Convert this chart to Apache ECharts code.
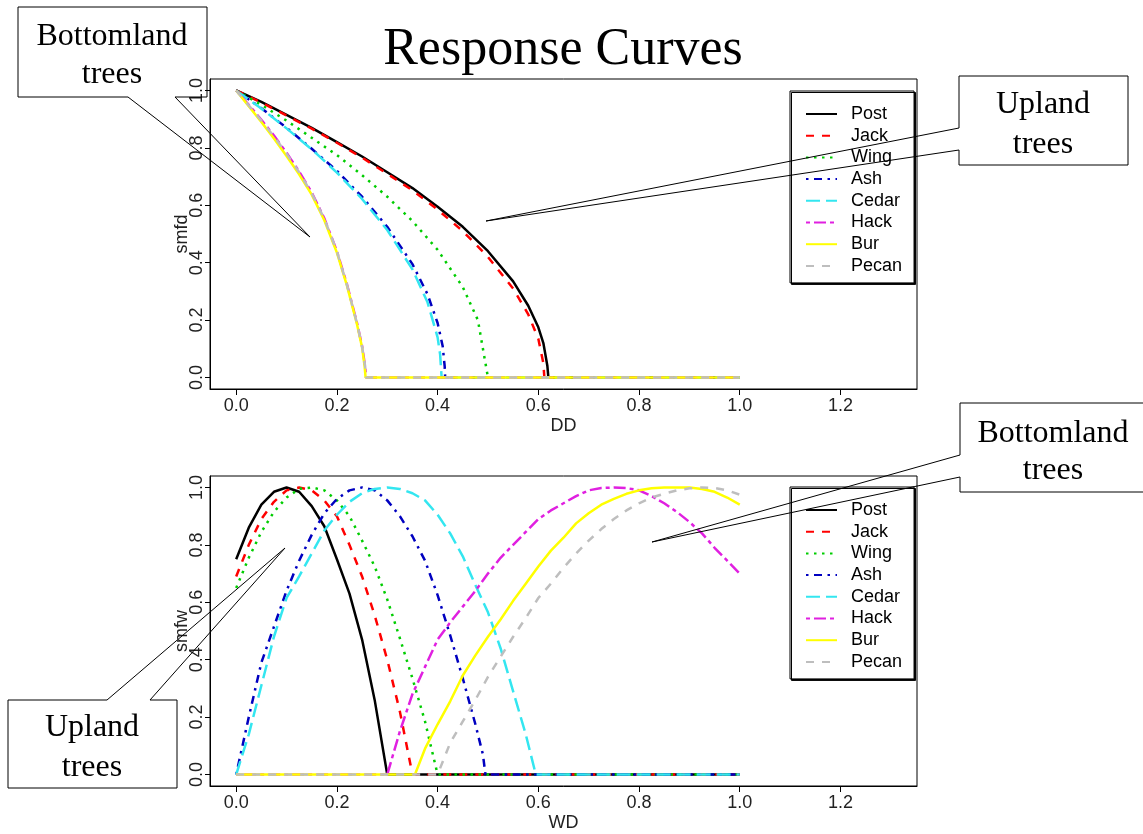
<!DOCTYPE html>
<html>
<head>
<meta charset="utf-8">
<title>Response Curves</title>
<script src="https://cdn.jsdelivr.net/npm/echarts@6.0.0/dist/echarts.min.js"></script>
<style>
  html, body { margin: 0; padding: 0; background: #fff; }
  #chart { width: 1143px; height: 834px; }
</style>
</head>
<body>
<div id="chart"></div>
<script>
// species and tick labels
const speciesNames = ['Post', 'Jack', 'Wing', 'Ash', 'Cedar', 'Hack', 'Bur', 'Pecan'];
const xTicks = [0, 0.2, 0.4, 0.6, 0.8, 1.0, 1.2];
const yTicks = [0, 0.2, 0.4, 0.6, 0.8, 1.0];

// smfd vs DD
const ddPost  = [[0,1],[0.05,0.96],[0.1,0.915],[0.15,0.87],[0.2,0.82],[0.25,0.77],[0.3,0.715],[0.35,0.66],[0.4,0.595],[0.45,0.525],[0.5,0.44],[0.55,0.335],[0.58,0.25],[0.6,0.175],[0.61,0.12],[0.618,0.04],[0.62,0],[1,0]];
const ddJack  = [[0,1],[0.05,0.958],[0.1,0.913],[0.15,0.867],[0.2,0.818],[0.25,0.766],[0.3,0.71],[0.35,0.652],[0.4,0.585],[0.45,0.51],[0.5,0.42],[0.55,0.31],[0.58,0.22],[0.6,0.135],[0.61,0.05],[0.612,0],[1,0]];
const ddWing  = [[0,1],[0.05,0.95],[0.1,0.895],[0.15,0.835],[0.2,0.775],[0.25,0.705],[0.3,0.63],[0.35,0.545],[0.4,0.445],[0.45,0.315],[0.48,0.2],[0.495,0.05],[0.5,0],[1,0]];
const ddAsh   = [[0,1],[0.05,0.938],[0.1,0.87],[0.15,0.797],[0.2,0.72],[0.25,0.63],[0.3,0.525],[0.35,0.395],[0.38,0.29],[0.4,0.19],[0.41,0.11],[0.414,0.04],[0.415,0],[1,0]];
const ddCedar = [[0,1],[0.05,0.937],[0.1,0.868],[0.15,0.795],[0.2,0.714],[0.25,0.622],[0.3,0.514],[0.35,0.377],[0.38,0.262],[0.4,0.14],[0.405,0.08],[0.408,0],[1,0]];
const ddHack  = [[0,1],[0.025,0.95],[0.05,0.898],[0.075,0.843],[0.1,0.783],[0.125,0.718],[0.15,0.645],[0.175,0.555],[0.2,0.44],[0.22,0.325],[0.24,0.19],[0.25,0.11],[0.256,0.04],[0.258,0],[1,0]];
const ddBur   = [[0,1],[0.025,0.945],[0.05,0.89],[0.075,0.833],[0.1,0.772],[0.125,0.708],[0.15,0.637],[0.175,0.548],[0.2,0.435],[0.22,0.32],[0.24,0.185],[0.25,0.105],[0.255,0.04],[0.257,0],[1,0]];
const ddPecan = [[0,1],[0.025,0.948],[0.05,0.895],[0.075,0.84],[0.1,0.78],[0.125,0.715],[0.15,0.642],[0.175,0.553],[0.2,0.44],[0.22,0.322],[0.24,0.188],[0.25,0.108],[0.256,0.04],[0.258,0],[1,0]];

// smfw vs WD
const wdPost  = [[0,0.75],[0.025,0.86],[0.05,0.94],[0.075,0.985],[0.1,1],[0.125,0.985],[0.15,0.935],[0.175,0.865],[0.2,0.75],[0.225,0.63],[0.25,0.47],[0.275,0.26],[0.3,0],[1,0]];
const wdJack  = [[0,0.69],[0.025,0.8],[0.05,0.89],[0.075,0.95],[0.1,0.99],[0.125,1],[0.15,0.99],[0.175,0.955],[0.2,0.9],[0.225,0.8],[0.25,0.69],[0.275,0.555],[0.3,0.4],[0.325,0.22],[0.35,0],[1,0]];
const wdWing  = [[0,0.65],[0.025,0.755],[0.05,0.845],[0.075,0.915],[0.1,0.965],[0.125,0.995],[0.15,1],[0.175,0.99],[0.2,0.955],[0.225,0.9],[0.25,0.815],[0.275,0.725],[0.3,0.61],[0.325,0.475],[0.35,0.335],[0.375,0.185],[0.4,0],[1,0]];
const wdAsh   = [[0,0],[0.025,0.2],[0.05,0.39],[0.075,0.515],[0.1,0.64],[0.125,0.745],[0.15,0.835],[0.175,0.91],[0.2,0.96],[0.225,0.99],[0.25,1],[0.275,0.99],[0.3,0.955],[0.325,0.9],[0.35,0.83],[0.375,0.745],[0.4,0.625],[0.425,0.485],[0.45,0.335],[0.475,0.175],[0.49,0.07],[0.495,0],[1,0]];
const wdCedar = [[0,0],[0.025,0.14],[0.05,0.31],[0.075,0.48],[0.1,0.615],[0.125,0.69],[0.15,0.77],[0.175,0.85],[0.2,0.905],[0.225,0.95],[0.25,0.98],[0.275,0.995],[0.3,1],[0.325,0.995],[0.35,0.98],[0.375,0.955],[0.4,0.905],[0.425,0.84],[0.45,0.76],[0.475,0.66],[0.5,0.565],[0.525,0.44],[0.55,0.29],[0.575,0.14],[0.595,0],[1,0]];
const wdHack  = [[0,0],[0.3,0],[0.325,0.15],[0.35,0.28],[0.375,0.375],[0.4,0.47],[0.425,0.53],[0.45,0.585],[0.475,0.64],[0.5,0.7],[0.525,0.755],[0.55,0.8],[0.575,0.845],[0.6,0.89],[0.625,0.92],[0.65,0.945],[0.675,0.97],[0.7,0.99],[0.725,0.998],[0.75,1],[0.775,0.998],[0.8,0.99],[0.825,0.97],[0.85,0.945],[0.875,0.915],[0.9,0.88],[0.925,0.84],[0.95,0.79],[0.975,0.745],[1,0.7]];
const wdBur   = [[0,0],[0.355,0],[0.375,0.09],[0.4,0.175],[0.425,0.255],[0.45,0.345],[0.475,0.415],[0.5,0.48],[0.525,0.54],[0.55,0.605],[0.575,0.665],[0.6,0.725],[0.625,0.78],[0.65,0.825],[0.675,0.875],[0.7,0.91],[0.725,0.94],[0.75,0.96],[0.775,0.978],[0.8,0.99],[0.825,0.997],[0.85,1],[0.875,1],[0.9,1],[0.925,0.995],[0.95,0.985],[0.975,0.965],[1,0.94]];
const wdPecan = [[0,0],[0.4,0],[0.425,0.11],[0.45,0.185],[0.475,0.26],[0.5,0.34],[0.525,0.41],[0.55,0.48],[0.575,0.545],[0.6,0.615],[0.625,0.665],[0.65,0.72],[0.675,0.77],[0.7,0.815],[0.725,0.855],[0.75,0.89],[0.775,0.92],[0.8,0.945],[0.825,0.965],[0.85,0.978],[0.875,0.99],[0.9,0.997],[0.925,1],[0.95,0.998],[0.975,0.99],[1,0.975]];

const ddData = [ddPost, ddJack, ddWing, ddAsh, ddCedar, ddHack, ddBur, ddPecan];
const wdData = [wdPost, wdJack, wdWing, wdAsh, wdCedar, wdHack, wdBur, wdPecan];

// R style colours and line types
const colors = ['#000000', '#ff0000', '#00cd00', '#0000c0', '#33e6f0', '#e020e0', '#ffff00', '#bebebe'];
const dashes = ['solid', [8, 8], [2.5, 5.5], [2.5, 5.5, 8, 5.5], [14, 6], [4, 4, 12, 4], 'solid', [8, 8]];

const chart = echarts.init(document.getElementById('chart'));

const tickFont = { fontFamily: 'Liberation Sans', fontSize: 18, color: '#222' };
const serifText = { fontFamily: 'Liberation Serif', fontSize: 32, fill: '#000', textAlign: 'center', textVerticalAlign: 'middle' };

function makeXAxis(grid, name) {
  return {
    type: 'value', gridIndex: grid, min: -0.052, max: 1.352,
    name: name, nameLocation: 'middle', nameGap: 28, nameMoveOverlap: false,
    nameTextStyle: { fontFamily: 'Liberation Sans', fontSize: 18, color: '#222' },
    axisLine: { show: true, onZero: false, lineStyle: { color: '#000', width: 1 } },
    axisTick: { show: true, length: 6, customValues: xTicks, lineStyle: { color: '#000' } },
    axisLabel: { customValues: xTicks, margin: 8, formatter: v => v.toFixed(1), ...tickFont },
    splitLine: { show: false }
  };
}

function makeYAxis(grid, name) {
  return {
    type: 'value', gridIndex: grid, min: -0.04, max: 1.04,
    name: name, nameLocation: 'middle', nameGap: 19, nameMoveOverlap: false,
    nameTextStyle: { fontFamily: 'Liberation Sans', fontSize: 18, color: '#222' },
    axisLine: { show: true, onZero: false, lineStyle: { color: '#000', width: 1 } },
    axisTick: { show: true, length: 5, customValues: yTicks, lineStyle: { color: '#000' } },
    axisLabel: { customValues: yTicks, rotate: 90, margin: 4, formatter: v => v.toFixed(1), ...tickFont },
    splitLine: { show: false }
  };
}

function makeLegend(top) {
  return {
    data: speciesNames, orient: 'vertical', left: 790, top: top,
    itemWidth: 31, itemHeight: 14, itemGap: 3.7,
    padding: [14, 12, 8, 15],
    backgroundColor: '#fff', borderColor: '#000', borderWidth: 1,
    shadowColor: '#000', shadowOffsetX: 1.5, shadowOffsetY: 1.5, shadowBlur: 0,
    selectedMode: false,
    itemStyle: { opacity: 0, color: 'transparent', borderWidth: 0 },
    textStyle: { fontFamily: 'Liberation Sans', fontSize: 18, color: '#000', padding: [0, 0, 0, 9] }
  };
}

function makeSeries(data, axis) {
  return speciesNames.map((n, i) => ({
    name: n, type: 'line', xAxisIndex: axis, yAxisIndex: axis,
    data: data[i], symbol: 'none', showSymbol: false,
    lineStyle: { color: colors[i], width: 2.5, type: dashes[i] },
    itemStyle: { color: colors[i] },
    emphasis: { disabled: true }
  }));
}

const option = {
  animation: false,
  backgroundColor: '#fff',
  grid: [
    { left: 210, top: 79, width: 707, height: 310, show: true, borderColor: '#000', borderWidth: 1, backgroundColor: 'transparent' },
    { left: 210, top: 476, width: 707, height: 310, show: true, borderColor: '#000', borderWidth: 1, backgroundColor: 'transparent' }
  ],
  xAxis: [makeXAxis(0, 'DD'), makeXAxis(1, 'WD')],
  yAxis: [makeYAxis(0, 'smfd'), makeYAxis(1, 'smfw')],
  legend: [makeLegend(91), makeLegend(487)],
  series: [...makeSeries(ddData, 0), ...makeSeries(wdData, 1)],
  graphic: [
    { type: 'text', z: 100, x: 563, y: 50,
      style: { text: 'Response Curves', fontFamily: 'Liberation Serif', fontSize: 52, fill: '#000', textAlign: 'center', textVerticalAlign: 'middle' } },
    // callout: top-left bottomland
    { type: 'polygon', z: 100, shape: { points: [[18,7],[207,7],[207,97],[175,97],[310,237],[128,97],[18,97]] },
      style: { fill: 'none', stroke: '#000', lineWidth: 1 } },
    { type: 'text', z: 101, x: 112, y: 37, style: { text: 'Bottomland', ...serifText } },
    { type: 'text', z: 101, x: 112, y: 75, style: { text: 'trees', ...serifText } },
    // callout: top-right upland
    { type: 'polygon', z: 100, shape: { points: [[959,76],[1128,76],[1128,165],[959,165],[959,150],[486,221],[959,128]] },
      style: { fill: 'none', stroke: '#000', lineWidth: 1 } },
    { type: 'text', z: 101, x: 1043, y: 105, style: { text: 'Upland', ...serifText } },
    { type: 'text', z: 101, x: 1043, y: 145, style: { text: 'trees', ...serifText } },
    // callout: bottom-right bottomland
    { type: 'polyline', z: 100, shape: { points: [[1150,403],[960,403],[960,455],[652,542],[960,477],[960,492],[1150,492]] },
      style: { fill: 'none', stroke: '#000', lineWidth: 1 } },
    { type: 'text', z: 101, x: 1053, y: 434, style: { text: 'Bottomland', ...serifText } },
    { type: 'text', z: 101, x: 1053, y: 471, style: { text: 'trees', ...serifText } },
    // callout: bottom-left upland
    { type: 'polygon', z: 100, shape: { points: [[8,700],[107,700],[285,548],[150,700],[177,700],[177,788],[8,788]] },
      style: { fill: 'none', stroke: '#000', lineWidth: 1 } },
    { type: 'text', z: 101, x: 92, y: 728, style: { text: 'Upland', ...serifText } },
    { type: 'text', z: 101, x: 92, y: 768, style: { text: 'trees', ...serifText } }
  ]
};

chart.setOption(option);
window.addEventListener('resize', () => chart.resize());
</script>
</body>
</html>
